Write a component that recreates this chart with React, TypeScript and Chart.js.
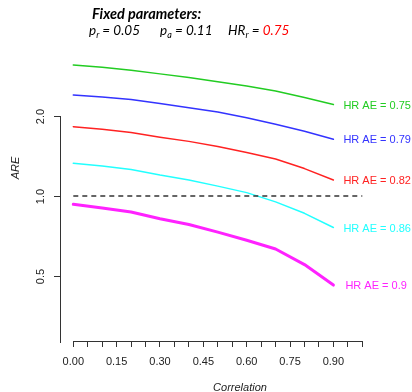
import React, { useEffect, useRef } from 'react';
import { Chart, registerables } from 'chart.js';

Chart.register(...registerables);

const correlation = [0, 0.1, 0.2, 0.3, 0.4, 0.5, 0.6, 0.7, 0.8, 0.9];
const areHR075 = [3.13, 3.07, 2.99, 2.9, 2.81, 2.71, 2.61, 2.5, 2.36, 2.22];
const areHR079 = [2.41, 2.37, 2.32, 2.24, 2.16, 2.08, 1.98, 1.87, 1.76, 1.64];
const areHR082 = [1.83, 1.79, 1.74, 1.67, 1.61, 1.54, 1.46, 1.38, 1.27, 1.15];
const areHR086 = [1.33, 1.3, 1.26, 1.2, 1.15, 1.09, 1.03, 0.95, 0.86, 0.76];
const areHR090 = [0.93, 0.9, 0.87, 0.82, 0.78, 0.73, 0.68, 0.63, 0.55, 0.46];

const seriesLabels = ['HR AE = 0.75', 'HR AE = 0.79', 'HR AE = 0.82', 'HR AE = 0.86', 'HR AE = 0.9'];
const seriesColors = ['#22cc22', '#3333ff', '#ff2222', '#22ffff', '#ff22ff'];
const seriesWidths = [1.5, 1.5, 1.5, 1.5, 3];

const refX = [0, 1];
const refY = [1, 1];

const xTickValues = [0, 0.05, 0.1, 0.15, 0.2, 0.25, 0.3, 0.35, 0.4, 0.45, 0.5, 0.55, 0.6, 0.65, 0.7, 0.75, 0.8, 0.85, 0.9, 0.95, 1.0];
const xTickLabels = ['0.00', '0.15', '0.30', '0.45', '0.60', '0.75', '0.90'];
const yTickValues = [0.5, 1, 2];
const yTickLabels = ['0.5', '1.0', '2.0'];

const SANS = '"Liberation Sans", Arial, sans-serif';
const TITLE_FONT = 'Lato, "Open Sans", sans-serif';

const overlay = {
  id: 'overlay',
  afterDraw(chart: any) {
    const { ctx, chartArea, scales } = chart;
    const x = scales.x;
    const y = scales.y;
    ctx.save();
    ctx.strokeStyle = '#333';
    ctx.lineWidth = 1;
    // x axis line
    const by = Math.round(chartArea.bottom) + 0.5;
    ctx.beginPath();
    ctx.moveTo(Math.round(x.getPixelForValue(xTickValues[0])), by);
    ctx.lineTo(Math.round(x.getPixelForValue(xTickValues[xTickValues.length - 1])) + 1, by);
    ctx.stroke();
    // y axis line
    const ax = Math.round(chartArea.left) + 0.5;
    ctx.beginPath();
    ctx.moveTo(ax, Math.round(y.getPixelForValue(yTickValues[yTickValues.length - 1])));
    ctx.lineTo(ax, chartArea.bottom + 2);
    ctx.stroke();
    // y ticks + labels
    ctx.fillStyle = '#222';
    ctx.font = `11px ${SANS}`;
    ctx.textAlign = 'center';
    ctx.textBaseline = 'middle';
    yTickValues.forEach((v, i) => {
      const py = Math.round(y.getPixelForValue(v)) + 0.5;
      ctx.beginPath();
      ctx.moveTo(ax - 6.5, py);
      ctx.lineTo(ax, py);
      ctx.stroke();
      ctx.save();
      ctx.translate(41, py);
      ctx.rotate(-Math.PI / 2);
      ctx.fillText(yTickLabels[i], 0, 0);
      ctx.restore();
    });
    // axis titles
    ctx.font = `italic 11px ${SANS}`;
    ctx.save();
    ctx.translate(16, 168);
    ctx.rotate(-Math.PI / 2);
    ctx.fillText('ARE', 0, 0);
    ctx.restore();
    ctx.textBaseline = 'alphabetic';
    ctx.fillText('Correlation', 240, 391);

    // end labels
    const allSeries = [areHR075, areHR079, areHR082, areHR086, areHR090];
    ctx.font = `11px ${SANS}`;
    ctx.textAlign = 'left';
    ctx.textBaseline = 'middle';
    allSeries.forEach((s, i) => {
      const last = s.length - 1;
      const px = x.getPixelForValue(correlation[last]) + (i === 4 ? 12 : 10);
      const py = y.getPixelForValue(s[last]) + 1;
      ctx.fillStyle = seriesColors[i];
      ctx.fillText(seriesLabels[i], px, py);
    });

    // header
    ctx.fillStyle = '#000';
    ctx.textBaseline = 'alphabetic';
    ctx.textAlign = 'left';
    ctx.font = `italic bold 14.5px ${TITLE_FONT}`;
    ctx.fillText('Fixed parameters:', 92, 18.5);
    const main = `italic 13.5px ${TITLE_FONT}`;
    const sub = `italic 9px ${TITLE_FONT}`;
    const groups: [number, [string, string, string][]][] = [
      [89, [['p', main, '#000'], ['r', sub, '#000'], [' = 0.05', main, '#000']]],
      [160, [['p', main, '#000'], ['a', sub, '#000'], [' = 0.11', main, '#000']]],
      [228, [['HR', main, '#000'], ['r', sub, '#000'], [' = ', main, '#000'], ['0.75', main, '#ff0000']]],
    ];
    groups.forEach(([gx, parts]) => {
      let cx = gx;
      parts.forEach(([t, f, c]) => {
        ctx.font = f;
        ctx.fillStyle = c;
        const dy = f === sub ? 3 : 0;
        ctx.fillText(t, cx, 35 + dy);
        cx += ctx.measureText(t).width;
      });
    });
    ctx.restore();
  },
};

export default function App() {
  const ref = useRef<HTMLCanvasElement>(null);
  useEffect(() => {
    if (!ref.current) return;
    const allSeries = [areHR075, areHR079, areHR082, areHR086, areHR090];
    const datasets: any[] = [
      {
        label: 'ref',
        data: refX.map((v, i) => ({ x: v, y: refY[i] })),
        borderColor: '#333',
        borderWidth: 1.6,
        borderDash: [5, 4],
        pointRadius: 0,
        fill: false,
      },
      ...allSeries.map((s, i) => ({
        label: seriesLabels[i],
        data: correlation.map((c, j) => ({ x: c, y: s[j] })),
        borderColor: seriesColors[i],
        borderWidth: seriesWidths[i],
        pointRadius: 0,
        tension: 0,
        fill: false,
        borderCapStyle: 'round',
        borderJoinStyle: 'round',
      })),
    ];
    const chart = new Chart(ref.current, {
      type: 'line',
      data: { datasets },
      plugins: [overlay],
      options: {
        animation: false,
        responsive: false,
        devicePixelRatio: 1,
        layout: { padding: { left: 60, top: 50, right: 0, bottom: 0 } },
        plugins: { legend: { display: false }, tooltip: { enabled: false }, title: { display: false } },
        scales: {
          x: {
            type: 'linear',
            min: -0.046,
            max: 1.172,
            afterFit: (s: any) => { s.height = 51; },
            afterBuildTicks: (s: any) => { s.ticks = xTickValues.map((v) => ({ value: v })); },
            border: { display: false },
            grid: { drawOnChartArea: false, drawTicks: true, tickLength: 6, tickColor: '#333', lineWidth: 1 },
            ticks: {
              autoSkip: false,
              maxRotation: 0,
              minRotation: 0,
              padding: 8,
              color: '#222',
              font: { family: SANS, size: 11 },
              callback: (v: any, i: number) => (i % 3 === 0 && i / 3 < xTickLabels.length ? xTickLabels[i / 3] : ''),
            },
          },
          y: {
            type: 'logarithmic',
            display: false,
            min: 0.2825,
            max: 3.571,
          },
        },
      },
    });
    return () => chart.destroy();
  }, []);
  return (
    <div style={{ position: 'absolute', left: 0, top: 0, width: 412, height: 392 }}>
      <canvas ref={ref} width={412} height={392} />
    </div>
  );
}
